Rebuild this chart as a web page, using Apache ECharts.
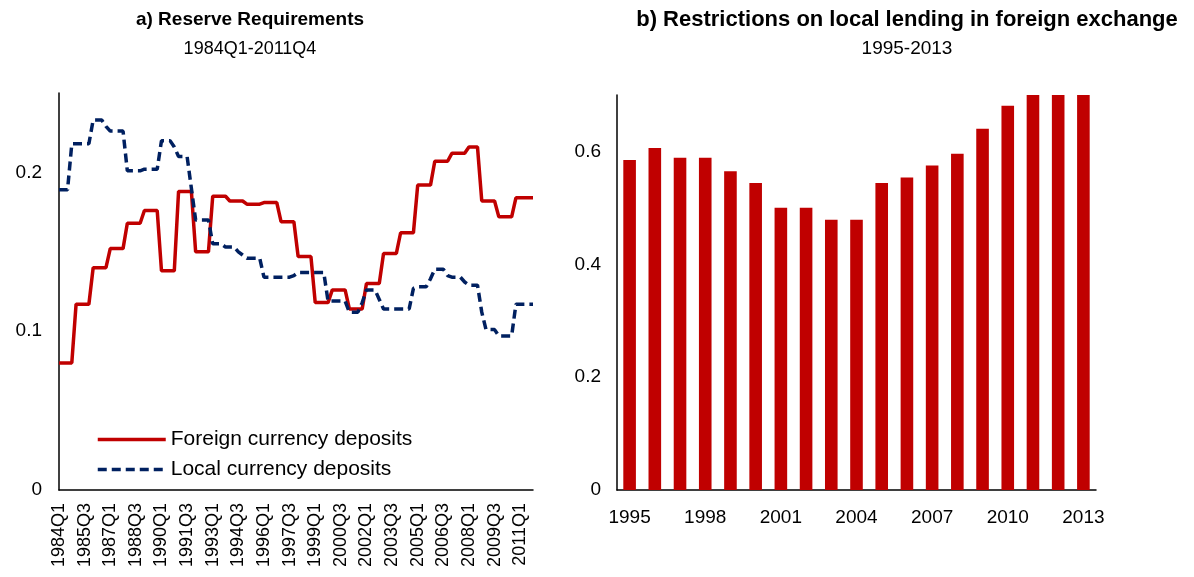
<!DOCTYPE html>
<html>
<head>
<meta charset="utf-8">
<script src="https://cdn.jsdelivr.net/npm/echarts@6/dist/echarts.min.js"></script>
<style>
html,body{margin:0;padding:0;background:#fff;}
#chart{width:1194px;height:577px;}
</style>
</head>
<body>
<div id="chart"></div>
<script>
// ---- Data ----
const quarters = [];
for (let y = 1984; y <= 2011; y++) { for (let q = 1; q <= 4; q++) quarters.push(y + 'Q' + q); }

const foreignDeposits = [
  0.080,0.080,0.080,0.080, 0.117,0.117,0.117,0.117, 0.140,0.140,0.140,0.140,
  0.152,0.152,0.152,0.152, 0.168,0.168,0.168,0.168, 0.176,0.176,0.176,0.176,
  0.138,0.138,0.138,0.138, 0.188,0.188,0.188,0.188, 0.150,0.150,0.150,0.150,
  0.185,0.185,0.185,0.185, 0.182,0.182,0.182,0.182, 0.180,0.180,0.180,0.180,
  0.181,0.181,0.181,0.181, 0.169,0.169,0.169,0.169, 0.147,0.147,0.147,0.147,
  0.118,0.118,0.118,0.118, 0.126,0.126,0.126,0.126, 0.114,0.114,0.114,0.114,
  0.130,0.130,0.130,0.130, 0.149,0.149,0.149,0.149, 0.162,0.162,0.162,0.162,
  0.192,0.192,0.192,0.192, 0.207,0.207,0.207,0.207, 0.212,0.212,0.212,0.212,
  0.216,0.216,0.216, 0.182,0.182,0.182,0.182, 0.172,0.172,0.172,0.172,
  0.184,0.184,0.184,0.184,0.184
];

const localDeposits = [
  0.189,0.189,0.189, 0.218,0.218,0.218,0.218,0.218, 0.233,0.233,0.233, 0.229,
  0.226,0.226,0.226,0.226, 0.201,0.201,0.201,0.201, 0.202,0.202,0.202,0.202,
  0.220,0.220,0.220, 0.216, 0.210,0.210,0.210, 0.190, 0.170,0.170,0.170,0.170,
  0.155,0.155,0.155, 0.153,0.153,0.153, 0.150, 0.148, 0.146,0.146,0.146,0.146,
  0.134,0.134,0.134,0.134,0.134,0.134,0.134, 0.135,
  0.137,0.137,0.137,0.137,0.137,0.137,0.137,
  0.119,0.119,0.119,0.119,0.119, 0.112,0.112,0.112, 0.118,
  0.126,0.126,0.126, 0.120, 0.114,0.114,0.114,0.114,0.114,0.114,0.114,
  0.127, 0.128,0.128,0.128, 0.133, 0.139,0.139,0.139, 0.135,
  0.134,0.134,0.134, 0.131, 0.129,0.129,0.129, 0.112, 0.101,0.101,0.101,
  0.097,0.097,0.097,0.097, 0.117,0.117,0.117,0.117,0.117
];

const years = ['1995','1996','1997','1998','1999','2000','2001','2002','2003','2004',
               '2005','2006','2007','2008','2009','2010','2011','2012','2013'];
const fxLendingRestrictions = [0.585,0.606,0.589,0.589,0.565,0.544,0.500,0.500,0.479,0.479,
                               0.544,0.554,0.575,0.596,0.640,0.681,0.700,0.700,0.700];

// ---- Chart ----
const FONT = '"Liberation Sans", Arial, sans-serif';
const RED = '#C00000';
const BLUE = '#002060';
const chart = echarts.init(document.getElementById('chart'), null, {renderer: 'canvas'});

const axisLineStyle = {show: true, lineStyle: {color: '#000', width: 1.5}};

chart.setOption({
  animation: false,
  backgroundColor: '#fff',
  textStyle: {fontFamily: FONT},
  title: [
    {text: 'a) Reserve Requirements', subtext: '1984Q1-2011Q4', left: 245, top: 5, textAlign: 'center', itemGap: 11,
     textStyle: {fontFamily: FONT, fontSize: 19, fontWeight: 'bold', color: '#000'},
     subtextStyle: {fontFamily: FONT, fontSize: 18, color: '#000'}},
    {text: 'b) Restrictions on local lending in foreign exchange', subtext: '1995-2013', left: 902, top: 4, textAlign: 'center', itemGap: 8,
     textStyle: {fontFamily: FONT, fontSize: 22, fontWeight: 'bold', color: '#000'},
     subtextStyle: {fontFamily: FONT, fontSize: 19, color: '#000'}}
  ],
  legend: {
    left: 91, top: 424, orient: 'vertical', itemWidth: 68, itemHeight: 20, itemGap: 9,
    itemStyle: {opacity: 0},
    lineStyle: {width: 3.5},
    textStyle: {fontFamily: FONT, fontSize: 21, color: '#000'},
    data: ['Foreign currency deposits', 'Local currency deposits']
  },
  grid: [
    {left: 59, top: 93, width: 474, height: 397, containLabel: false},
    {left: 617, top: 95, width: 479, height: 395, containLabel: false}
  ],
  xAxis: [
    {type: 'category', gridIndex: 0, data: quarters, boundaryGap: false,
     axisLine: axisLineStyle, axisTick: {show: false},
     axisLabel: {interval: 5, rotate: 90, fontSize: 18, color: '#000', margin: 13, fontFamily: FONT},
     splitLine: {show: false}},
    {type: 'category', gridIndex: 1, data: years, boundaryGap: true,
     axisLine: axisLineStyle, axisTick: {show: false},
     axisLabel: {interval: 2, fontSize: 19, color: '#000', margin: 18, fontFamily: FONT},
     splitLine: {show: false}}
  ],
  yAxis: [
    {type: 'value', gridIndex: 0, min: 0, max: 0.25, interval: 0.1,
     axisLine: axisLineStyle, axisTick: {show: false}, splitLine: {show: false},
     axisLabel: {showMaxLabel: false, fontSize: 19, color: '#000', margin: 17, fontFamily: FONT}},
    {type: 'value', gridIndex: 1, min: 0, max: 0.7, interval: 0.2,
     axisLine: axisLineStyle, axisTick: {show: false}, splitLine: {show: false},
     axisLabel: {showMaxLabel: false, fontSize: 19, color: '#000', margin: 16, fontFamily: FONT}}
  ],
  series: [
    {name: 'Foreign currency deposits', type: 'line', xAxisIndex: 0, yAxisIndex: 0,
     data: foreignDeposits, symbol: 'none', color: RED,
     lineStyle: {color: RED, width: 3.5}},
    {name: 'Local currency deposits', type: 'line', xAxisIndex: 0, yAxisIndex: 0,
     data: localDeposits, symbol: 'none', color: BLUE,
     lineStyle: {color: BLUE, width: 3.5, type: [9, 5]}},
    {name: 'FX lending restrictions', type: 'bar', xAxisIndex: 1, yAxisIndex: 1,
     data: fxLendingRestrictions, barWidth: '50%', itemStyle: {color: RED}}
  ]
});
</script>
</body>
</html>
